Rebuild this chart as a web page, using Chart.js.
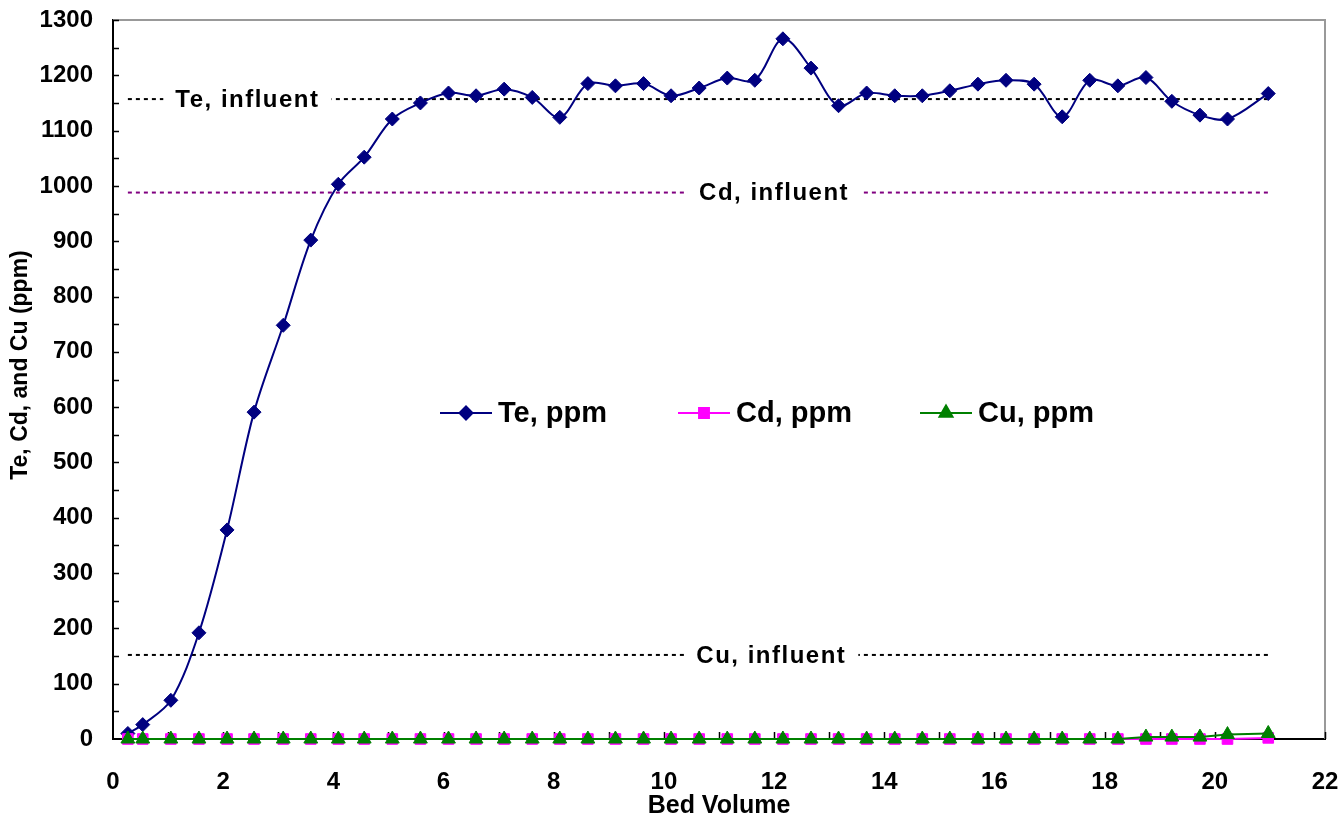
<!DOCTYPE html>
<html>
<head>
<meta charset="utf-8">
<script src="https://cdn.jsdelivr.net/npm/chart.js@4.4.1/dist/chart.umd.min.js"></script>
<style>
  html, body { margin: 0; padding: 0; background: #fff; }
  #wrap { width: 1342px; height: 818px; }
</style>
</head>
<body>
<div id="wrap"><canvas id="chart" width="1342" height="818"></canvas></div>
<script>
// Te / Cd / Cu breakthrough vs bed volume
const bedVolume = [0.27, 0.54, 1.05, 1.56, 2.07, 2.56, 3.09, 3.59, 4.09, 4.56,
  5.07, 5.58, 6.09, 6.59, 7.10, 7.61, 8.11, 8.62, 9.12, 9.63,
  10.13, 10.64, 11.15, 11.65, 12.16, 12.67, 13.17, 13.68, 14.19, 14.69,
  15.19, 15.70, 16.21, 16.72, 17.23, 17.73, 18.24, 18.75, 19.22, 19.73,
  20.23, 20.97];
const tePpm = [10, 26, 70, 192, 378, 591, 748, 902, 1003, 1052,
  1121, 1150, 1168, 1163, 1175, 1160, 1124, 1185, 1181, 1185,
  1163, 1177, 1195, 1191, 1266, 1213, 1145, 1168, 1163, 1163,
  1172, 1184, 1191, 1184, 1125, 1191, 1181, 1196, 1153, 1128,
  1121, 1167];
const cdPpm = [0, 0, 0, 0, 0, 0, 0, 0, 0, 0,
  0, 0, 0, 0, 0, 0, 0, 0, 0, 0,
  0, 0, 0, 0, 0, 0, 0, 0, 0, 0,
  0, 0, 0, 0, 0, 0, 0, 0, 0, 0,
  0, 2];
const cuPpm = [0, 0, 0, 0, 0, 0, 0, 0, 0, 0,
  0, 0, 0, 0, 0, 0, 0, 0, 0, 0,
  0, 0, 0, 0, 0, 0, 0, 0, 0, 0,
  0, 0, 0, 0, 0, 0, 0, 3.5, 3.5, 3.5,
  8, 10];

const seriesNames = ["Te, ppm", "Cd, ppm", "Cu, ppm"];
const influentNames = ["Te, influent", "Cd, influent", "Cu, influent"];
const influentPpm = [1157, 988, 152];
const xTitle = "Bed Volume";
const yTitle = "Te, Cd, and Cu (ppm)";

const FONT = '"Liberation Sans", Arial, sans-serif';
Chart.defaults.font.family = FONT;
Chart.defaults.color = "#000";

const pts = (ys) => bedVolume.map((x, i) => ({ x: x, y: ys[i] }));
const span = (v) => [{ x: bedVolume[0], y: v }, { x: bedVolume[bedVolume.length - 1], y: v }];

const influentColors = ["#000000", "#800080", "#000000"];
const influentLabelX = [2.44, 12.0, 11.95];

const datasets = [
  { label: seriesNames[0], data: pts(tePpm), borderColor: "#000080", backgroundColor: "#000080",
    borderWidth: 2, pointStyle: "rectRot", pointRadius: 7, pointBorderWidth: 1, tension: 0.33, order: 3, clip: false },
  { label: seriesNames[1], data: pts(cdPpm), borderColor: "#ff00ff", backgroundColor: "#ff00ff",
    borderWidth: 2, pointStyle: "rect", pointRadius: 7.5, pointBorderWidth: 1, tension: 0, order: 2, clip: false },
  { label: seriesNames[2], data: pts(cuPpm), borderColor: "#008000", backgroundColor: "#008000",
    borderWidth: 2, pointStyle: "triangle", pointRadius: 8, pointBorderWidth: 1, tension: 0, order: 1, clip: false },
];
influentNames.forEach((name, i) => {
  datasets.push({ label: name, data: span(influentPpm[i]), borderColor: influentColors[i],
    borderWidth: 2, borderDash: [4, 4], pointRadius: 0, tension: 0, order: 4 });
});

// inward tick marks, grey top/right frame, rotated y title
const frame = {
  id: "frame",
  beforeDatasetsDraw(chart) {
    const { ctx, chartArea: a, scales: { x, y } } = chart;
    ctx.save();
    ctx.strokeStyle = "#999";
    ctx.lineWidth = 2;
    ctx.beginPath();
    ctx.moveTo(a.left, a.top); ctx.lineTo(a.right, a.top); ctx.lineTo(a.right, a.bottom);
    ctx.stroke();
    ctx.strokeStyle = "#000";
    ctx.lineWidth = 1.5;
    ctx.beginPath();
    for (let v = 50; v <= 1300; v += 50) {
      const py = Math.round(y.getPixelForValue(v)) + 0.5;
      ctx.moveTo(a.left, py); ctx.lineTo(a.left + 6, py);
    }
    for (let v = 1; v <= 22; v += 1) {
      const px = Math.round(x.getPixelForValue(v)) + 0.5;
      ctx.moveTo(px, a.bottom); ctx.lineTo(px, a.bottom - 7);
    }
    ctx.stroke();

    ctx.translate(27, 365);
    ctx.rotate(-Math.PI / 2);
    ctx.font = "bold 23px " + FONT;
    ctx.textAlign = "center";
    ctx.textBaseline = "alphabetic";
    ctx.fillStyle = "#000";
    ctx.fillText(yTitle, 0, 0);
    ctx.restore();
  },
};

// "X, influent" labels sitting on the dashed lines
const influentLabels = {
  id: "influentLabels",
  afterDatasetsDraw(chart) {
    const { ctx, scales: { x, y } } = chart;
    ctx.save();
    ctx.font = "bold 24px " + FONT;
    if ("letterSpacing" in ctx) ctx.letterSpacing = "1.5px";
    ctx.textAlign = "center";
    ctx.textBaseline = "middle";
    influentNames.forEach((name, i) => {
      const px = x.getPixelForValue(influentLabelX[i]);
      const py = y.getPixelForValue(influentPpm[i]);
      const w = ctx.measureText(name).width;
      ctx.fillStyle = "#fff";
      ctx.fillRect(px - w / 2 - 12, py - 13, w + 24, 26);
      ctx.fillStyle = "#000";
      ctx.fillText(name, px, py + 1);
    });
    ctx.restore();
  },
};

// legend drawn inside the plot, middle height
const innerLegend = {
  id: "innerLegend",
  afterDraw(chart) {
    const { ctx, chartArea: a } = chart;
    const starts = [327, 565, 807];
    const py = 413;
    ctx.save();
    ctx.font = "bold 29px " + FONT;
    ctx.textBaseline = "middle";
    ctx.textAlign = "left";
    [0, 1, 2].forEach((i) => {
      const ds = chart.data.datasets[i];
      const x0 = a.left + starts[i];
      ctx.strokeStyle = ds.borderColor;
      ctx.lineWidth = 2;
      ctx.beginPath();
      ctx.moveTo(x0, py); ctx.lineTo(x0 + 52, py);
      ctx.stroke();
      ctx.fillStyle = ds.backgroundColor;
      Chart.helpers.drawPoint(ctx, { pointStyle: ds.pointStyle, radius: ds.pointRadius - 0.5, rotation: 0, borderWidth: 1 }, x0 + 26, py);
      ctx.fillStyle = "#000";
      ctx.fillText(ds.label, x0 + 58, py + 1);
    });
    ctx.restore();
  },
};

new Chart(document.getElementById("chart"), {
  type: "line",
  data: { datasets: datasets },
  plugins: [frame, influentLabels, innerLegend],
  options: {
    responsive: false,
    animation: false,
    layout: { padding: { top: 20, right: 17, left: 0, bottom: 0 } },
    plugins: { legend: { display: false }, tooltip: { enabled: false } },
    scales: {
      x: {
        type: "linear", min: 0, max: 22,
        ticks: { stepSize: 2, padding: 29, font: { size: 24, weight: "bold" }, color: "#000", callback: (v) => String(v) },
        grid: { display: false, drawTicks: false },
        border: { display: true, color: "#000", width: 2 },
        title: { display: true, text: xTitle, font: { size: 25, weight: "bold" }, color: "#000", padding: { top: 0, bottom: -3 } },
        afterFit: (s) => { s.height = 79; s.paddingLeft = 0; s.paddingRight = 0; },
      },
      y: {
        type: "linear", min: 0, max: 1300,
        ticks: { stepSize: 100, padding: 20, font: { size: 24, weight: "bold" }, color: "#000", callback: (v) => String(v) },
        grid: { display: false, drawTicks: false },
        border: { display: true, color: "#000", width: 2 },
        afterFit: (s) => { s.width = 113; s.paddingTop = 0; s.paddingBottom = 0; },
      },
    },
  },
});
</script>
</body>
</html>
